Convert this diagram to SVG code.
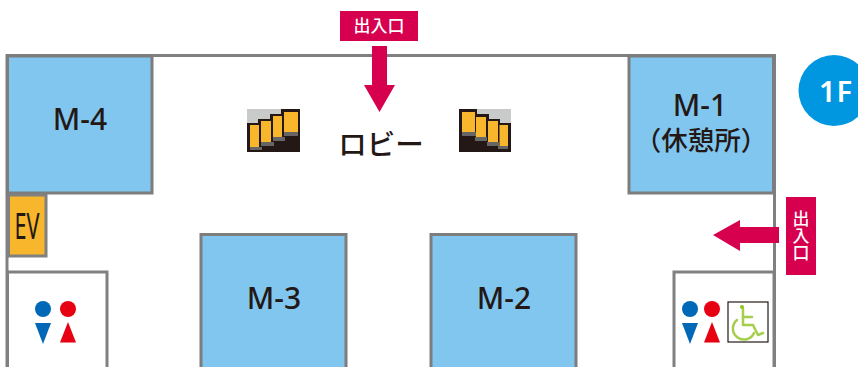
<svg xmlns="http://www.w3.org/2000/svg" width="858" height="367" viewBox="0 0 858 367">
<defs><style>
.w{fill:none;stroke:#808080;stroke-width:3}
.r{fill:#80c6ef;stroke:#7d7d7d;stroke-width:3}
.t{fill:#231815;font-family:"Noto Sans CJK JP","Noto Sans",sans-serif;text-anchor:middle;font-weight:500}
.m{font-size:30px;font-family:"Noto Sans",sans-serif}
.l{fill:#fff;font-family:"Noto Sans CJK JP",sans-serif;font-weight:500;font-size:17px;text-anchor:middle}
.p{fill:#d7004f}.b{fill:#0068b7}.d{fill:#e60012}
.s{fill:#f8b62d}.k{fill:#231815}.g{fill:#c9caca}.h{fill:#666}
</style>
<g id="man"><circle cx="0" cy="0" r="8" class="b"/><path d="M-8 14H8L0 35Z" class="b"/></g>
<g id="woman"><circle cx="0" cy="0" r="8" class="d"/><path d="M0 13L8 33.500H-8Z" class="d"/></g>
</defs>
<rect width="858" height="367" fill="#fff"/>
<g id="walls"><path class="w" d="M7 367V55.500H774.500V367"/></g>
<g id="m4"><rect class="r" x="7.500" y="56" width="144.500" height="137"/><text class="t m" x="80" y="130">M-4</text></g>
<g id="m1"><rect class="r" x="629" y="56" width="144.500" height="137"/><text class="t m" x="700" y="116">M-1</text><text class="t" font-size="26.500" x="701" y="150">（休憩所）</text></g>
<g id="m3"><rect class="r" x="201" y="234.500" width="145" height="140"/><text class="t m" x="274" y="309">M-3</text></g>
<g id="m2"><rect class="r" x="431" y="234.500" width="145" height="140"/><text class="t m" x="504" y="309">M-2</text></g>
<g id="ev"><rect x="8.500" y="195" width="37.500" height="61" fill="#f8b62d" stroke="#808080" stroke-width="3"/><text x="27" y="239" font-family="'Noto Sans',sans-serif" font-size="37" fill="#231815" text-anchor="middle" textLength="25" lengthAdjust="spacingAndGlyphs">EV</text></g>
<g id="lobby"><text class="t" font-size="28.500" x="381" y="155">ロビー</text></g>
<g id="stairs-left">
<rect x="247" y="109" width="53" height="43" class="g"/>
<path class="k" d="M247 123H258V119H270V114H281V109H300V152H247Z"/>
<rect class="h" x="250" y="147" width="12" height="3"/><rect class="h" x="261" y="142" width="13" height="4"/><rect class="h" x="273" y="137" width="12" height="4"/><rect class="h" x="284" y="132" width="14" height="4"/>
<rect class="s" x="250" y="125" width="9" height="22"/><rect class="s" x="261" y="121" width="10" height="21"/><rect class="s" x="273" y="116" width="9" height="21"/><rect class="s" x="284" y="112" width="14" height="20"/>
</g>
<g id="stairs-right">
<rect x="459" y="109" width="52" height="43" class="g"/>
<path class="k" d="M459 109H477V114H489V119H500V123H511V152H459Z"/>
<rect class="h" x="462" y="132" width="14" height="4"/><rect class="h" x="475" y="137" width="12" height="4"/><rect class="h" x="487" y="142" width="12" height="4"/><rect class="h" x="498" y="146" width="10" height="3"/>
<rect class="s" x="462" y="112" width="13" height="20"/><rect class="s" x="476" y="117" width="10" height="20"/><rect class="s" x="488" y="121" width="10" height="21"/><rect class="s" x="499.500" y="125" width="8.500" height="21"/>
</g>
<g id="wc-left"><rect class="w" x="7.500" y="272" width="99.500" height="100"/><use href="#man" x="43" y="309"/><use href="#woman" x="68" y="309"/></g>
<g id="wc-right"><rect class="w" x="674" y="272" width="100" height="100"/><use href="#man" x="690" y="309"/><use href="#woman" x="712" y="309"/>
<rect x="728" y="302" width="40" height="40" fill="#fff" stroke="#231815" stroke-width="1.200"/>
<g fill="none" stroke="#8fc31f" stroke-width="2.500" stroke-linecap="round" stroke-linejoin="round" opacity=".8"><path d="M743 309V325H753L758 335L763 333"/><path d="M743 317H752"/><path d="M737 320A11 11 0 1 0 754 333"/></g><circle cx="742" cy="307" r="2" fill="#8fc31f"/></g>
<g id="badge"><circle cx="834" cy="90.500" r="35.500" fill="#0097e0"/><text x="836" y="102" font-family="'Noto Sans',sans-serif" font-weight="600" font-size="29" letter-spacing="1" fill="#fff" text-anchor="middle">1F</text></g>
<g id="connectors">
<path class="p" d="M372 46H387V85H395L379.500 112L364 85H372Z"/>
<path class="p" d="M779 227V243H740V251L713 235L740 220V227Z"/>
</g>
<g id="entrance-top"><rect class="p" x="340" y="11" width="78" height="30"/><text class="l" x="379" y="32">出入口</text></g>
<g id="entrance-right"><rect class="p" x="786" y="197" width="30" height="78"/><text class="l" x="801" y="236" style="writing-mode:vertical-rl">出入口</text></g>
</svg>
